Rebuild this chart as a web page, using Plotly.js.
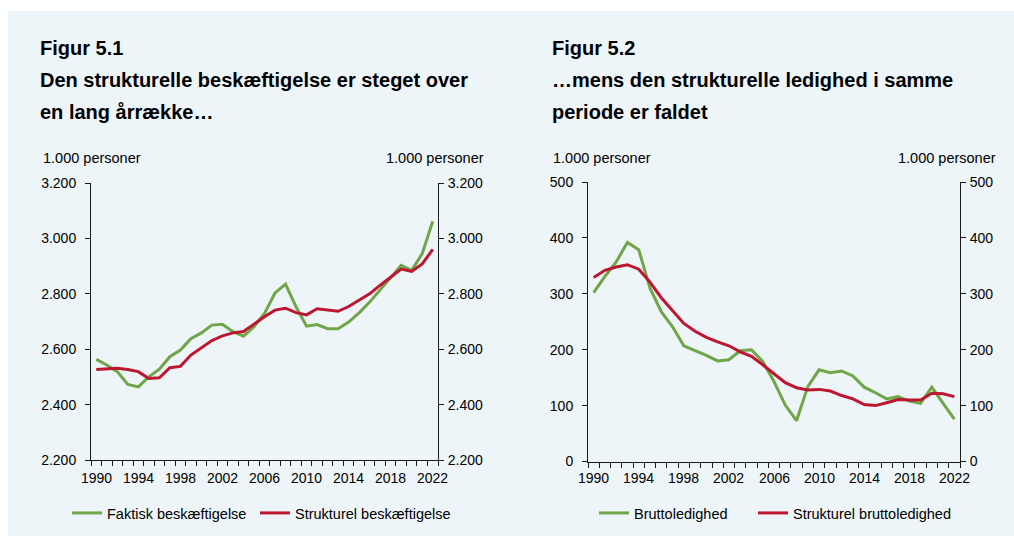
<!DOCTYPE html>
<html>
<head>
<meta charset="utf-8">
<script src="https://cdn.plot.ly/plotly-3.0.1.min.js"></script>
<style>
html,body{margin:0;padding:0;background:#ffffff;}
#chart{width:1014px;height:536px;}
</style>
</head>
<body>
<div id="chart"></div>
<script>
// ---------- data ----------
const years = [1990,1991,1992,1993,1994,1995,1996,1997,1998,1999,2000,2001,2002,2003,2004,2005,2006,2007,2008,2009,2010,2011,2012,2013,2014,2015,2016,2017,2018,2019,2020,2021,2022];
const xTickYears = [1990,1994,1998,2002,2006,2010,2014,2018,2022];

// Figur 5.1 (1.000 personer)
const faktiskBeskaeftigelse = [2563,2543,2519,2473,2464,2500,2528,2573,2597,2638,2659,2687,2690,2663,2647,2681,2729,2803,2835,2753,2683,2689,2674,2674,2698,2731,2770,2815,2859,2903,2885,2945,3062];
const strukturelBeskaeftigelse = [2527,2529,2531,2527,2519,2494,2497,2533,2538,2579,2606,2631,2648,2659,2664,2692,2717,2741,2748,2732,2724,2746,2742,2737,2754,2777,2800,2831,2861,2889,2881,2908,2960];

// Figur 5.2 (1.000 personer)
const bruttoledighed = [302,331,357,392,379,310,268,241,207,199,190,180,182,198,200,179,143,101,73,134,164,159,162,153,133,123,112,116,108,104,133,104,76];
const strukturelBruttoledighed = [329,342,348,352,344,321,293,269,247,233,222,214,207,196,188,173,157,141,132,128,129,126,118,112,102,100,105,111,110,110,122,121,116];

const leftTicks = [2200,2400,2600,2800,3000,3200];
const rightTicks = [0,100,200,300,400,500];

// ---------- style ----------
const W = 1014, H = 536;
const GREEN = '#70a548';
const RED = '#bd1631';
const AX = '#1a1a1a';
const FONT = 'Liberation Sans, Arial, sans-serif';
const px = v => v / W;
const py = v => 1 - v / H;

function trace(y, name, color, xa, ya, leg) {
  return {x: years, y: y, name: name, type: 'scatter', mode: 'lines',
    line: {color: color, width: 3}, xaxis: xa, yaxis: ya, legend: leg,
    showlegend: true, hoverinfo: 'skip'};
}
// invisible helper so that the mirrored right-hand axes are drawn
function ghost(y, xa, ya) {
  return {x: years, y: y, type: 'scatter', mode: 'lines', line: {width: 0, color: 'rgba(0,0,0,0)'},
    opacity: 0, xaxis: xa, yaxis: ya, showlegend: false, hoverinfo: 'skip'};
}

const data = [
  trace(faktiskBeskaeftigelse, 'Faktisk beskæftigelse', GREEN, 'x', 'y', 'legend'),
  trace(strukturelBeskaeftigelse, 'Strukturel beskæftigelse', RED, 'x', 'y', 'legend2'),
  trace(bruttoledighed, 'Bruttoledighed', GREEN, 'x2', 'y3', 'legend3'),
  trace(strukturelBruttoledighed, 'Strukturel bruttoledighed', RED, 'x2', 'y3', 'legend4'),
  ghost(strukturelBeskaeftigelse, 'x', 'y2'),
  ghost(strukturelBruttoledighed, 'x2', 'y4')
];

// tick marks at the boundaries between years; year labels at the year centres (annotations)
const boundaries = years.concat([years[years.length - 1] + 1]).map(y => y - 0.5);

function xAxis(domain, anchor) {
  return {domain: domain, anchor: anchor, range: [1989.5, 2022.5], fixedrange: true,
    tickmode: 'array', tickvals: boundaries, showticklabels: false,
    ticks: 'outside', ticklen: 5, tickcolor: AX, tickwidth: 1,
    showline: true, linecolor: AX, linewidth: 1, showgrid: false, zeroline: false};
}
function yAxis(domain, anchor, range, ticks, side, overlay) {
  const a = {domain: domain, anchor: anchor, range: range, fixedrange: true,
    tickmode: 'array', tickvals: ticks, tickformat: ',d', side: side,
    ticks: 'outside', ticklen: 5, tickcolor: AX, tickwidth: 1,
    showline: true, linecolor: AX, linewidth: 1, showgrid: false, zeroline: false,
    ticklabelstandoff: side === 'left' ? 6 : 1,
    tickfont: {family: FONT, size: 14, color: '#000'}};
  if (overlay) a.overlaying = overlay;
  return a;
}

const lx = [px(91), px(438)], ly = [py(460), py(183)];
const rx = [px(588), px(960)], ry = [py(461.5), py(182)];

function legend(x) {
  return {orientation: 'h', x: px(x), xanchor: 'left', y: py(513), yanchor: 'middle',
    bgcolor: 'rgba(0,0,0,0)', borderwidth: 0, visible: true,
    font: {family: FONT, size: 14.5, color: '#000'}};
}

function ann(text, x, y, xanchor, size, bold) {
  return {text: bold ? '<b>' + text + '</b>' : text, x: px(x), y: py(y), xref: 'paper', yref: 'paper',
    xanchor: xanchor, yanchor: 'middle', showarrow: false,
    font: {family: FONT, size: size, color: '#000'}};
}
function yearLabel(year, xref) {
  return {text: String(year), x: year, xref: xref, y: py(478), yref: 'paper',
    xanchor: 'center', yanchor: 'middle', showarrow: false,
    font: {family: FONT, size: 14, color: '#000'}};
}

const annotations = [
  ann('Figur 5.1', 38, 48, 'left', 20, true),
  ann('Den strukturelle beskæftigelse er steget over', 38, 80, 'left', 20, true),
  ann('en lang årrække…', 38, 112, 'left', 20, true),
  ann('Figur 5.2', 550, 48, 'left', 20, true),
  ann('…mens den strukturelle ledighed i samme', 550, 80, 'left', 20, true),
  ann('periode er faldet', 550, 112, 'left', 20, true),
  ann('1.000 personer', 41, 158, 'left', 14.5, false),
  ann('1.000 personer', 486, 158, 'right', 14.5, false),
  ann('1.000 personer', 551, 158, 'left', 14.5, false),
  ann('1.000 personer', 998, 158, 'right', 14.5, false)
].concat(xTickYears.map(y => yearLabel(y, 'x')), xTickYears.map(y => yearLabel(y, 'x2')));

const layout = {
  width: W, height: H, margin: {l: 0, r: 0, t: 0, b: 0},
  paper_bgcolor: '#ffffff', plot_bgcolor: 'rgba(0,0,0,0)',
  separators: ',.', showlegend: true,
  font: {family: FONT, size: 14, color: '#000'},
  xaxis: xAxis(lx, 'y'),
  yaxis: yAxis(ly, 'x', [2200, 3200], leftTicks, 'left'),
  yaxis2: yAxis(ly, 'x', [2200, 3200], leftTicks, 'right', 'y'),
  xaxis2: xAxis(rx, 'y3'),
  yaxis3: yAxis(ry, 'x2', [0, 500], rightTicks, 'left'),
  yaxis4: yAxis(ry, 'x2', [0, 500], rightTicks, 'right', 'y3'),
  legend: legend(67),
  legend2: legend(255),
  legend3: legend(594),
  legend4: legend(753),
  shapes: [{type: 'rect', xref: 'paper', yref: 'paper', x0: px(8), x1: 1, y0: 0, y1: py(11),
    fillcolor: '#edf5f9', line: {width: 0}, layer: 'below'}],
  annotations: annotations
};

Plotly.newPlot('chart', data, layout, {displayModeBar: false, staticPlot: true});
</script>
</body>
</html>
